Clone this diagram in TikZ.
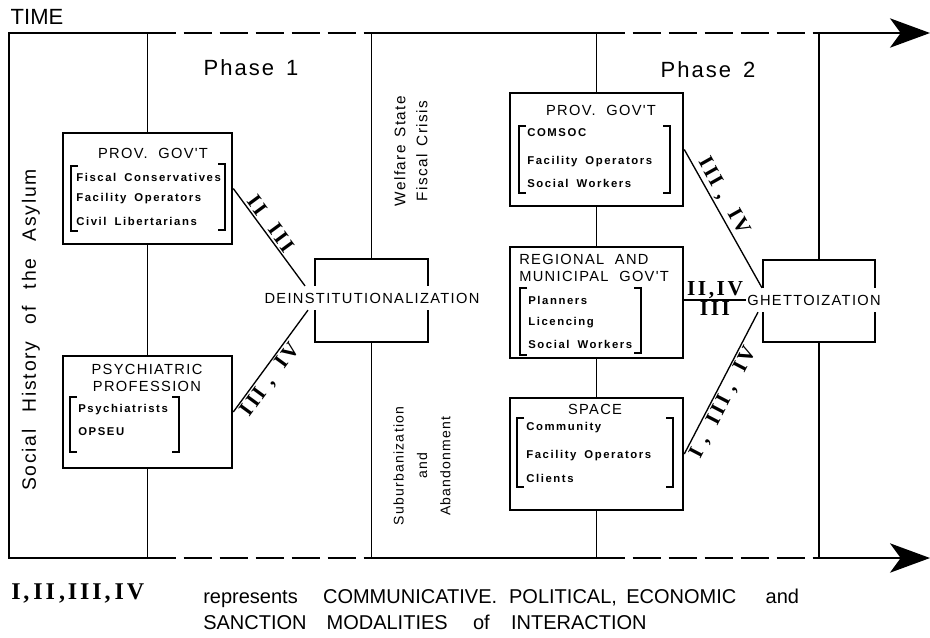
\documentclass[tikz,border=0pt]{standalone}
\usepackage{fontspec}
\setmainfont{Liberation Sans}
\newfontfamily\lachefont[LetterSpace=9]{Liberation Sans}
\newfontfamily\membrefont[LetterSpace=14]{Liberation Sans}
\newfontfamily\romainfont[LetterSpace=12]{Liberation Serif}
\usepackage{tikz}
\usetikzlibrary{arrows.meta,calc}

\begin{document}
\begin{tikzpicture}[x=0.75pt,y=-0.75pt,
    boite/.style={draw,line width=1.9pt,inner sep=0pt},
    titre/.style={inner sep=0pt,font={\lachefont\fontsize{11}{12.75}\selectfont\spaceskip=8pt\relax}},
    membre/.style={anchor=west,inner sep=0pt,font={\membrefont\bfseries\fontsize{8.5}{10}\selectfont\spaceskip=6pt\relax}},
    chiffre/.style={inner sep=1.5pt,font=\romainfont\bfseries\fontsize{16}{18}\selectfont},
    mot/.style={fill=white,inner xsep=1pt,inner ysep=5pt,font=\lachefont\fontsize{11}{13}\selectfont},
    vertical/.style={rotate=90,align=center,inner sep=0pt},
    crochet/.style={line width=1.2pt},
    trait/.style={line width=1.4pt},
    tirets/.style={trait,dash pattern=on 21pt off 6pt},
    fleche/.style={trait,-{Stealth[length=30pt,width=22pt,inset=8pt]}},
    lien/.style={line width=1pt}]
    \useasboundingbox (0,0) rectangle (930,637);

    % Les boites
    \node[boite,minimum width=126.75pt,minimum height=83.25pt] (gouv1) at (147.5,188.5) {};
    \node[boite,minimum width=126.75pt,minimum height=84pt] (psy) at (147.5,412) {};
    \node[boite,minimum width=84.75pt,minimum height=62.25pt] (desbox) at (371.5,300.5) {};
    \node[boite,minimum width=129.75pt,minimum height=84.75pt] (gouv2) at (596.5,149.5) {};
    \node[boite,minimum width=129.75pt,minimum height=83.25pt] (region) at (596.5,302.5) {};
    \node[boite,minimum width=129.75pt,minimum height=84pt] (espace) at (596.5,454) {};
    \node[boite,minimum width=84pt,minimum height=61.5pt] (ghbox) at (819,301) {};

    % Axe du temps
    \coordinate (h0) at (9,33);   \coordinate (b0) at (9,558);
    \coordinate (h1) at (147.5,33); \coordinate (b1) at (147.5,558);
    \coordinate (h2) at (371.5,33); \coordinate (b2) at (371.5,558);
    \coordinate (h3) at (596.5,33); \coordinate (b3) at (596.5,558);
    \coordinate (h4) at (819,33);   \coordinate (b4) at (819,558);
    \coordinate (h5) at (930,33);   \coordinate (b5) at (930,558);
    \draw[trait] (h1) -- (h0) -- (b0) -- (b1);
    \draw[tirets] (h1) -- (h2);
    \draw[tirets] (b1) -- (b2);
    \draw[trait] (h2) -- (h3);
    \draw[trait] (b2) -- (b3);
    \draw[tirets] (h3) -- (h4);
    \draw[tirets] (b3) -- (b4);
    \draw[fleche] (h4) -- (h5);
    \draw[fleche] (b4) -- (b5);
    \node[font=\fontsize{16.5}{18}\selectfont] (temps) at (37,17) {TIME};

    % Traits verticaux
    \draw[trait] (h1) -- (gouv1.north) (gouv1.south) -- (psy.north) (psy.south) -- (b1);
    \draw[trait] (h2) -- (desbox.north) (desbox.south) -- (b2);
    \draw[trait] (h3) -- (gouv2.north) (gouv2.south) -- (region.north) (region.south) -- (espace.north) (espace.south) -- (b3);
    \draw[trait] (h4) -- (ghbox.north) (ghbox.south) -- (b4);

    % Resultats
    \node[mot] (desinst) at (372,298) {DEINSTITUTIONALIZATION};
    \node[mot] (ghetto) at (814,300) {GHETTOIZATION};

    % Phases et contexte
    \node[titre,font={\lachefont\fontsize{16.5}{18}\selectfont\spaceskip=9pt\relax}] (phase1) at (251,68) {Phase 1};
    \node[titre,font={\lachefont\fontsize{16.5}{18}\selectfont\spaceskip=9pt\relax}] (phase2) at (708,70) {Phase 2};
    \node[vertical,font={\lachefont\fontsize{14.5}{16}\selectfont\spaceskip=13pt\relax}] (histoire) at (31,330) {Social History of the Asylum};
    \node[vertical,font={\lachefont\fontsize{11.5}{16.5}\selectfont\spaceskip=6pt\relax}] (etat) at (411,151) {Welfare State\\Fiscal Crisis};
    \node[vertical,font=\lachefont\fontsize{10.5}{17.6}\selectfont] (banlieue) at (422,466) {Suburbanization\\and\\Abandonment};

    % Phase 1
    \node[titre] (t1) at (153,153) {PROV. GOV'T};
    \node[membre] (m11) at (76,177) {Fiscal Conservatives};
    \node[membre] (m12) at (76,199) {Facility Operators};
    \node[membre] (m13) at (76,221) {Civil Libertarians};
    \draw[crochet] (78,166) -- (71,166) -- (71,231) -- (78,231);
    \draw[crochet] (218,164) -- (225,164) -- (225,230) -- (218,230);

    \node[titre,align=center] (t2) at (147,378) {PSYCHIATRIC\\PROFESSION};
    \node[membre] (m21) at (78,410) {Psychiatrists};
    \node[membre] (m22) at (78,432) {OPSEU};
    \draw[crochet] (77,397) -- (70,397) -- (70,452) -- (77,452);
    \draw[crochet] (172,397) -- (179,397) -- (179,452) -- (172,452);

    % Phase 2
    \node[titre] (t3) at (601,110) {PROV. GOV'T};
    \node[membre] (m31) at (527,133) {COMSOC};
    \node[membre] (m32) at (527,162) {Facility Operators};
    \node[membre] (m33) at (527,183) {Social Workers};
    \draw[crochet] (526,126) -- (519,126) -- (519,193) -- (526,193);
    \draw[crochet] (663,126) -- (670,126) -- (670,193) -- (663,193);

    \node[titre,anchor=west,align=left] (t4) at (519,268) {REGIONAL AND\\MUNICIPAL GOV'T};
    \node[membre] (m41) at (528,300) {Planners};
    \node[membre] (m42) at (528,323) {Licencing};
    \node[membre] (m43) at (528,344) {Social Workers};
    \draw[crochet] (527,288) -- (520,288) -- (520,355) -- (527,355);
    \draw[crochet] (634,288) -- (641,288) -- (641,353) -- (634,353);

    \node[titre] (t5) at (595,409) {SPACE};
    \node[membre] (m51) at (526,428) {Community};
    \node[membre] (m52) at (526,456) {Facility Operators};
    \node[membre] (m53) at (526,478) {Clients};
    \draw[crochet] (524,418) -- (517,418) -- (517,487) -- (524,487);
    \draw[crochet] (666,418) -- (673,418) -- (673,487) -- (666,487);

    % Liens et modalites
    \draw[lien] (gouv1.east) -- node[chiffre,pos=0.42,sloped,above] {II\ \ III} ($(desinst.north)+(-67,0)$);
    \draw[lien] (psy.east) -- node[chiffre,pos=0.38,sloped,below] {III ,\ \ IV} ($(desinst.south)+(-64,0)$);
    \draw[lien] (gouv2.east) -- node[chiffre,pos=0.38,sloped,above] {III ,\ \ IV} ($(ghetto.north)+(-52,0)$);
    \draw[lien] (ghetto.west -| region.east) -- node[chiffre,midway,above,inner sep=0.5pt] {II,IV} node[chiffre,midway,below,inner sep=1pt] {III} (ghetto.west);
    \draw[lien] (espace.east) -- node[chiffre,pos=0.4,sloped,below] {I ,\ \ III ,\ \ IV} ($(ghetto.south)+(-56,0)$);

    % Legende
    \node[anchor=west,inner sep=0pt,font=\romainfont\bfseries\fontsize{18}{21}\selectfont] (cle) at (11,593) {I,\,II\,,III,\,IV};
    \node[anchor=west,inner sep=0pt,align=left,font=\fontsize{15}{19.5}\selectfont] (legende) at (203,609) {represents\hspace{19pt}COMMUNICATIVE.\hspace{9pt}POLITICAL,\hspace{7pt}ECONOMIC\hspace{22pt}and\\SANCTION\hspace{15pt}MODALITIES\hspace{19pt}of\hspace{16pt}INTERACTION};
\end{tikzpicture}
\end{document}
